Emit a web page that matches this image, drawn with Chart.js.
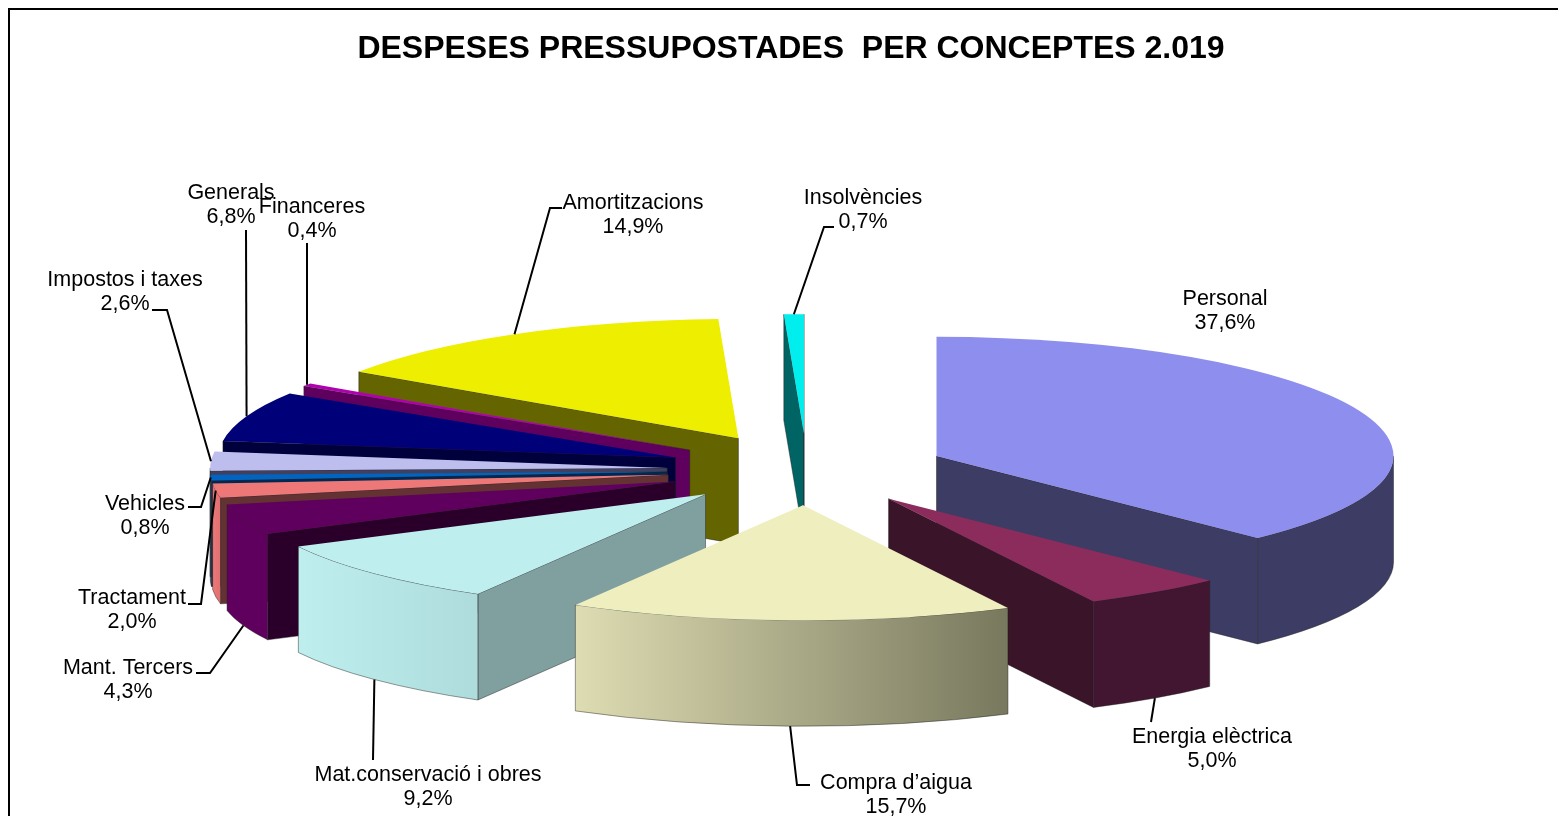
<!DOCTYPE html>
<html>
<head>
<meta charset="utf-8">
<title>Despeses pressupostades per conceptes 2.019</title>
<script src="https://cdn.jsdelivr.net/npm/chart.js@4/dist/chart.umd.min.js"></script>
<style>
html, body { margin: 0; padding: 0; background: #fff; overflow: hidden; }
#frame { position: absolute; left: 8px; top: 8px; width: 1700px; height: 1000px; border: 2px solid #000; }
</style>
</head>
<body>
<div id="frame"></div>
<canvas id="pie" width="1558" height="816" style="position:absolute;left:0;top:0;display:block"></canvas>
<script>
const titleText = 'DESPESES PRESSUPOSTADES  PER CONCEPTES 2.019';
const concepts = ['Personal', 'Energia elèctrica', 'Compra d\u2019aigua', 'Mat.conservació i obres', 'Mant. Tercers', 'Tractament', 'Vehicles', 'Impostos i taxes', 'Generals', 'Financeres', 'Amortitzacions', 'Insolvències'];
const shares = [37.6, 5.0, 15.7, 9.2, 4.3, 2.0, 0.8, 2.6, 6.8, 0.4, 14.9, 0.7];

// colours per slice: top face, cut face, rim left and right
const topColors = ['#8e8eee', '#8c2c5c', '#eeeebe', '#beeeee', '#5f005f', '#ee7878', '#0064c0', '#bebeee', '#000078', '#b000b0', '#eeee00', '#00eeee'];
const cutColors = ['#3c3c64', '#3a1428', '#78785e', '#80a0a0', '#2a002a', '#643232', '#002850', '#404060', '#00003c', '#5f005f', '#646400', '#006464'];
const rimLeft = ['#3c3c64', '#421630', '#dedcb2', '#beeeee', '#5f005f', '#ee7878', '#405878', '#404060', '#00003c', '#5f005f', '#646400', '#006464'];
const rimRight = ['#3c3c64', '#421630', '#78785e', '#aedcdc', '#5f005f', '#e07070', '#405878', '#404060', '#00003c', '#5f005f', '#646400', '#006464'];

// back to front
const drawOrder = [11, 10, 9, 8, 7, 6, 5, 4, 0, 1, 3, 2];

const pieX = 807, pieY = 470, pieRadius = 457;
const squashFront = 0.2516, squashBack = 0.261, explode = 140, depth = 106;

// label centre, leader start points, and which rim edge the leader goes to
const labelSpots = [[1225, 299], [1212, 737], [896, 783], [428, 775], [128, 668], [132, 598], [145, 504], [125, 280], [231, 193], [312, 207], [633, 203], [863, 198]];
const leaderBends = [
    [],
    [[1151, 722]],
    [[810, 785], [797, 785]],
    [[373, 760]],
    [[196, 673], [210, 673]],
    [[188, 604], [201, 604]],
    [[188, 507], [201, 507]],
    [[152, 310], [167, 310]],
    [[246, 230]],
    [[307, 243]],
    [[562, 208], [550, 208]],
    [[834, 227], [824, 227]]
];
const leaderRim = ['', 'bottom', 'bottom', 'bottom', 'bottom', 'top', 'top', 'top', 'top', 'top', 'top', 'top'];

// the far half of the pie looks a bit deeper than the near half
function squashAt(angle) {
    return Math.sin(angle) < 0 ? squashBack : squashFront;
}

function tipOf(arc) {
    const mid = (arc.startAngle + arc.endAngle) / 2;
    return { x: pieX + Math.cos(mid) * explode, y: pieY + Math.sin(mid) * explode * squashAt(mid), mid: mid };
}

function rimPoint(tip, angle) {
    return { x: tip.x + Math.cos(angle) * pieRadius, y: tip.y + Math.sin(angle) * pieRadius * squashAt(angle) };
}

function cutFace(ctx, tip, angle, color) {
    const e = rimPoint(tip, angle);
    ctx.beginPath();
    ctx.moveTo(tip.x, tip.y);
    ctx.lineTo(e.x, e.y);
    ctx.lineTo(e.x, e.y + depth);
    ctx.lineTo(tip.x, tip.y + depth);
    ctx.closePath();
    ctx.fillStyle = color;
    ctx.fill();
    ctx.strokeStyle = 'rgba(30,30,30,0.45)';
    ctx.lineWidth = 1;
    ctx.stroke();
}

function rimFace(ctx, tip, from, to, left, right) {
    const ry = pieRadius * squashFront;
    const x1 = tip.x + Math.cos(to) * pieRadius;
    const x2 = tip.x + Math.cos(from) * pieRadius;
    const grad = ctx.createLinearGradient(x1, 0, x2, 0);
    grad.addColorStop(0, left);
    grad.addColorStop(1, right);
    ctx.beginPath();
    ctx.ellipse(tip.x, tip.y, pieRadius, ry, 0, from, to);
    ctx.ellipse(tip.x, tip.y + depth, pieRadius, ry, 0, to, from, true);
    ctx.closePath();
    ctx.fillStyle = grad;
    ctx.fill();
    ctx.strokeStyle = 'rgba(30,30,30,0.45)';
    ctx.lineWidth = 1;
    ctx.stroke();
}

function topHalf(ctx, chart, arc, tip, squash, clipY, clipH) {
    ctx.save();
    ctx.beginPath();
    ctx.rect(0, clipY, chart.width, clipH);
    ctx.clip();
    ctx.translate(tip.x, tip.y);
    ctx.scale(1, squash);
    ctx.translate(-arc.x, -arc.y);
    arc.draw(ctx);
    ctx.restore();
}

const pie3d = {
    id: 'pie3d',
    beforeDatasetsDraw(chart) {
        const ctx = chart.ctx;
        const arcs = chart.getDatasetMeta(0).data;
        drawOrder.forEach(i => {
            const arc = arcs[i];
            const tip = tipOf(arc);
            if (Math.cos(arc.startAngle) < 0) cutFace(ctx, tip, arc.startAngle, cutColors[i]);
            if (Math.cos(arc.endAngle) > 0) cutFace(ctx, tip, arc.endAngle, cutColors[i]);
            const from = Math.max(arc.startAngle, 0);
            const to = Math.min(arc.endAngle, Math.PI);
            if (to > from) rimFace(ctx, tip, from, to, rimLeft[i], rimRight[i]);
            topHalf(ctx, chart, arc, tip, squashBack, 0, tip.y + 0.5);
            topHalf(ctx, chart, arc, tip, squashFront, tip.y, chart.height - tip.y);
        });
        return false;
    },
    afterDraw(chart) {
        const ctx = chart.ctx;
        const arcs = chart.getDatasetMeta(0).data;
        ctx.save();
        ctx.strokeStyle = '#000';
        ctx.lineWidth = 2;
        leaderBends.forEach((bends, i) => {
            if (!bends.length) return;
            const tip = tipOf(arcs[i]);
            const end = rimPoint(tip, tip.mid);
            ctx.beginPath();
            bends.forEach((p, k) => k ? ctx.lineTo(p[0], p[1]) : ctx.moveTo(p[0], p[1]));
            ctx.lineTo(end.x, leaderRim[i] === 'bottom' ? end.y + depth : end.y);
            ctx.stroke();
        });
        ctx.fillStyle = '#000';
        ctx.font = '21.5px "Liberation Sans"';
        ctx.textAlign = 'center';
        ctx.textBaseline = 'middle';
        concepts.forEach((name, i) => {
            const spot = labelSpots[i];
            ctx.fillText(name, spot[0], spot[1]);
            ctx.fillText(shares[i].toFixed(1).replace('.', ',') + '%', spot[0], spot[1] + 24);
        });
        ctx.restore();
    }
};

new Chart(document.getElementById('pie').getContext('2d'), {
    type: 'pie',
    data: {
        labels: concepts,
        datasets: [{
            data: shares,
            backgroundColor: topColors,
            borderWidth: 0
        }]
    },
    options: {
        responsive: false,
        animation: false,
        radius: pieRadius,
        events: [],
        layout: { padding: { left: 24 } },
        plugins: {
            legend: { display: false },
            tooltip: { enabled: false },
            title: {
                display: true,
                text: titleText,
                color: '#000',
                font: { family: '"Liberation Sans"', size: 32, weight: 'bold' },
                padding: { top: 30, bottom: 0 }
            }
        }
    },
    plugins: [pie3d]
});
</script>
</body>
</html>
